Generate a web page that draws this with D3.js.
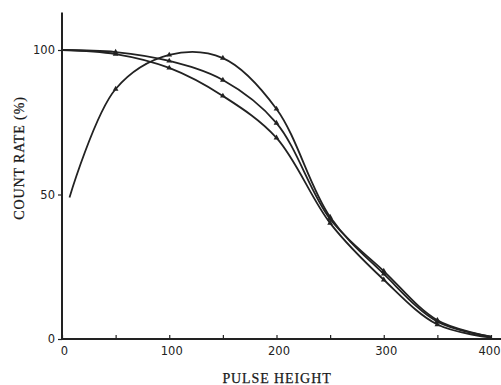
<!DOCTYPE html>
<html>
<head>
<meta charset="utf-8">
<script src="https://cdn.jsdelivr.net/npm/d3@7"></script>
<style>
  body { margin: 0; background: #fff; }
  svg { display: block; }
  .tick text { font-family: "DejaVu Sans", "Liberation Sans", sans-serif; font-size: 11.5px; fill: #222; }
  .title { font-family: "Liberation Serif", "DejaVu Serif", serif; font-size: 14px; fill: #1a1a1a; letter-spacing: 0.9px; stroke: #1a1a1a; stroke-width: 0.25px; }
</style>
</head>
<body>
<div id="chart"></div>
<script>
var svgWidth = 501;
var svgHeight = 385;

// pulse height values where the markers sit
var pulseHeights = [0, 50, 100, 150, 200, 250, 300, 350, 400];

// rising curve starts a bit off zero
var risingPulse = [7, 50, 100, 150, 200, 250, 300, 350, 400];
var risingRate = [49, 86.5, 98.3, 97.2, 79.6, 42.2, 22.5, 6, 0.8];

var middleRate = [100, 99.3, 96.2, 89.6, 74.7, 41.5, 23.5, 6.5, 0.8];
var lowerRate = [100, 98.6, 93.8, 84.1, 69.6, 40.1, 20.5, 5, 0.5];

var xTickValues = [0, 50, 100, 150, 200, 250, 300, 350, 400];
var yTickValues = [0, 50, 100];

var ink = "#222";

var svg = d3.select("#chart")
    .append("svg")
    .attr("width", svgWidth)
    .attr("height", svgHeight);

var x = d3.scaleLinear().domain([0, 400]).range([62, 491]);
var y = d3.scaleLinear().domain([0, 100]).range([339, 50]);

// axes
var xAxis = svg.append("g")
    .attr("transform", `translate(0, ${y(0)})`)
    .call(d3.axisBottom(x)
        .tickValues(xTickValues)
        .tickSizeInner(-4)
        .tickSizeOuter(0)
        .tickPadding(8)
        .tickFormat(d => d % 100 === 0 ? d : ""));
xAxis.select(".domain").remove();
xAxis.selectAll(".tick line").attr("stroke", ink).attr("stroke-width", 1.2);
xAxis.selectAll(".tick text").attr("dy", "0.71em").attr("dx", "2");
// last label sits right at the page edge
xAxis.selectAll(".tick text").filter(d => d === 400)
    .attr("text-anchor", "end")
    .attr("dx", svgWidth - 1 - x(400));

var yAxis = svg.append("g")
    .attr("transform", `translate(${x(0)}, 0)`)
    .call(d3.axisLeft(y)
        .tickValues(yTickValues)
        .tickSizeInner(4)
        .tickSizeOuter(0)
        .tickPadding(3));
yAxis.select(".domain").remove();
yAxis.selectAll(".tick line").attr("stroke", ink).attr("stroke-width", 1.2);

// axis lines drawn long, the way the printed figure has them
svg.append("line")
    .attr("x1", x(0)).attr("x2", svgWidth)
    .attr("y1", y(0)).attr("y2", y(0))
    .attr("stroke", ink).attr("stroke-width", 2);
svg.append("line")
    .attr("x1", x(0)).attr("x2", x(0))
    .attr("y1", y(0) + 1).attr("y2", y(113))
    .attr("stroke", ink).attr("stroke-width", 2);

// curves
var line = d3.line()
    .x(d => x(d[0]))
    .y(d => y(d[1]))
    .curve(d3.curveCatmullRom.alpha(0.5));

var series = [
    d3.zip(risingPulse, risingRate),
    d3.zip(pulseHeights, middleRate),
    d3.zip(pulseHeights, lowerRate)
];

series.forEach(function(pts) {
    svg.append("path")
        .datum(pts)
        .attr("fill", "none")
        .attr("stroke", ink)
        .attr("stroke-width", 1.8)
        .attr("d", line);

    // markers, skipping the curve ends
    svg.selectAll(null)
        .data(pts.filter(d => d[0] > 10 && d[0] < 400))
        .enter()
        .append("path")
        .attr("d", d3.symbol().type(d3.symbolTriangle).size(14))
        .attr("transform", d => `translate(${x(d[0])}, ${y(d[1])})`)
        .attr("fill", ink);
});

// titles
svg.append("text")
    .attr("class", "title")
    .attr("x", 277)
    .attr("y", 383)
    .attr("text-anchor", "middle")
    .text("PULSE HEIGHT");

svg.append("text")
    .attr("class", "title")
    .attr("transform", "rotate(-90)")
    .attr("x", -158)
    .attr("y", 24)
    .attr("text-anchor", "middle")
    .text("COUNT RATE (%)");
</script>
</body>
</html>
